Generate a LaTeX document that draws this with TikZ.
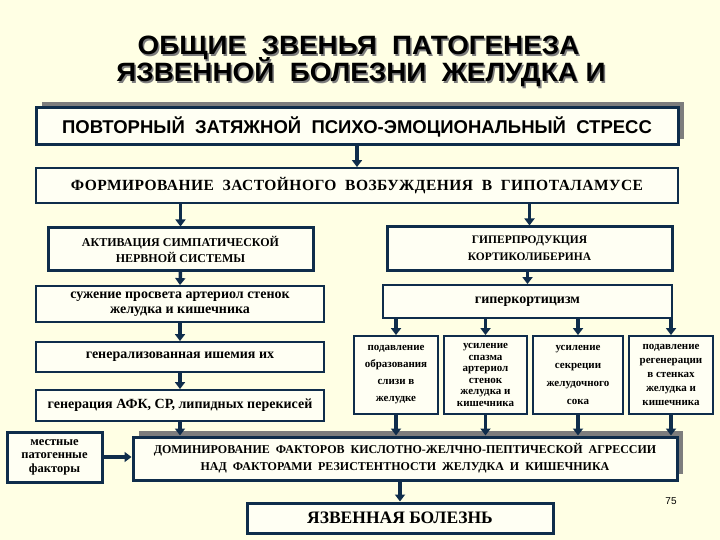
\documentclass[tikz,border=0pt]{standalone}
\usepackage{fontspec}
\setmainfont{Liberation Serif}
\newfontfamily\titlefont[FakeStretch=1.05]{Liberation Sans}
\newfontfamily\hdfont[FakeStretch=1.0]{Liberation Sans}
\newfontfamily\wideserif[LetterSpace=3]{Liberation Serif}
\newfontfamily\pgfont{Liberation Sans}
\usetikzlibrary{arrows.meta,shadows}
\definecolor{navy}{RGB}{15,45,75}
\definecolor{bg}{RGB}{255,255,228}
\definecolor{boxfill}{RGB}{255,255,243}
\definecolor{shadowgray}{RGB}{125,125,125}
\newcommand{\fs}[2]{\fontsize{#1}{#2}\selectfont}
\newcommand{\shadtext}[1]{\rlap{\hspace{1.5pt}\raisebox{-2pt}{\textcolor{shadowgray}{#1}}}#1}
\tikzset{
  box/.style={draw=navy, fill=boxfill, line width=1.8pt, inner sep=0pt, align=center, font=\bfseries},
  thickbox/.style={box, line width=3pt},
  shad/.style={drop shadow={shadow xshift=6pt, shadow yshift=6pt, opacity=1, fill=shadowgray}},
  arr/.style={draw=navy, line width=3.5pt, -{Triangle[width=10pt,length=7pt]}},
  ttl/.style={anchor=base, font=\titlefont\bfseries\fs{26.5}{30}},
}
\begin{document}
\begin{tikzpicture}[x=1pt,y=-1pt]
\fill[bg] (0,0) rectangle (720,540);
\useasboundingbox (0,0) rectangle (720,540);
% title
\node[ttl] (t1) at (358.5,55) {\shadtext{ОБЩИЕ\ \ ЗВЕНЬЯ\ \ ПАТОГЕНЕЗА}};
\node[ttl] (t2) at (361,82) {\shadtext{ЯЗВЕННОЙ\ \ БОЛЕЗНИ\ \ ЖЕЛУДКА И}};
% boxes
\node[thickbox, shad, minimum width=642pt, minimum height=37pt, font=\hdfont\bfseries\fs{18.5}{20}] (b1) at (357,126.5)
  {ПОВТОРНЫЙ\ \ ЗАТЯЖНОЙ\ \ ПСИХО-ЭМОЦИОНАЛЬНЫЙ\ \ СТРЕСС};
\node[box, minimum width=642pt, minimum height=35pt, font=\wideserif\bfseries\fs{15.5}{18}] (b2) at (357,185.5)
  {ФОРМИРОВАНИЕ\ \ ЗАСТОЙНОГО\ \ ВОЗБУЖДЕНИЯ\ \ В\ \ ГИПОТАЛАМУСЕ};
\node[thickbox, minimum width=265pt, minimum height=42pt, font=\bfseries\fs{12}{16}] (b3) at (180.5,249)
  {АКТИВАЦИЯ СИМПАТИЧЕСКОЙ\\НЕРВНОЙ СИСТЕМЫ};
\node[thickbox, minimum width=285pt, minimum height=43pt, font=\bfseries\fs{11.5}{17}] (b4) at (529.5,248.5)
  {ГИПЕРПРОДУКЦИЯ\\КОРТИКОЛИБЕРИНА};
\node[box, minimum width=288pt, minimum height=36pt, font=\bfseries\fs{14}{15}] (b5) at (180,304)
  {сужение просвета артериол стенок\\желудка и кишечника};
\node[box, minimum width=289pt, minimum height=33pt, font=\bfseries\fs{14}{15}] (b6) at (527.5,301.5)
  {гиперкортицизм};
\node[box, minimum width=288pt, minimum height=30pt, font=\bfseries\fs{14}{15}] (b7) at (180,357)
  {генерализованная ишемия их};
\node[box, minimum width=288pt, minimum height=31pt, font=\bfseries\fs{14}{15}] (b8) at (180,405.5)
  {генерация АФК, СР, липидных перекисей};
% small boxes
\node[box, minimum width=84pt, minimum height=78pt, font=\bfseries\fs{11}{17}] (s1) at (396,375)
  {подавление\\образования\\слизи в\\желудке};
\node[box, minimum width=83pt, minimum height=78pt, font=\bfseries\fs{11}{11.5}] (s2) at (485.5,375)
  {усиление\\спазма\\артериол\\стенок\\желудка и\\кишечника};
\node[box, minimum width=90pt, minimum height=78pt, font=\bfseries\fs{11}{18}] (s3) at (578,375)
  {усиление\\секреции\\желудочного\\сока};
\node[box, minimum width=84pt, minimum height=78pt, font=\bfseries\fs{11}{14}] (s4) at (671,375)
  {подавление\\регенерации\\в стенках\\желудка и\\кишечника};
% bottom
\node[thickbox, shad, minimum width=544pt, minimum height=43pt, font=\bfseries\fs{12}{17}] (big) at (405,458.5)
  {ДОМИНИРОВАНИЕ\ \ ФАКТОРОВ\ \ КИСЛОТНО-ЖЕЛЧНО-ПЕПТИЧЕСКОЙ\ \ АГРЕССИИ\\НАД\ \ ФАКТОРАМИ\ \ РЕЗИСТЕНТНОСТИ\ \ ЖЕЛУДКА\ \ И\ \ КИШЕЧНИКА};
\node[thickbox, minimum width=95pt, minimum height=50pt, font=\bfseries\fs{12.5}{13.5}] (loc) at (54.5,457)
  {местные\\патогенные\\факторы};
\node[thickbox, minimum width=306pt, minimum height=30pt, font=\bfseries\fs{17.5}{20}] (yb) at (400,518)
  {ЯЗВЕННАЯ БОЛЕЗНЬ};
\node[font=\pgfont\fs{10}{12}] (pg) at (671,501) {75};
% arrows
\draw[arr] (b1.south) -- (b2.north);
\draw[arr] (b2.south -| b3.north) -- (b3.north);
\draw[arr] (b2.south -| b4.north) -- (b4.north);
\draw[arr] (b3.south) -- (b5.north);
\draw[arr] (b4.south -| b6.north) -- (b6.north);
\draw[arr] (b5.south) -- (b7.north);
\draw[arr] (b7.south) -- (b8.north);
\draw[arr] (b8.south) -- (b8.south |- big.north);
\foreach \s in {s1,s2,s3,s4}{
  \draw[arr] (b6.south -| \s.north) -- (\s.north);
  \draw[arr] (\s.south) -- (\s.south |- big.north);
}
\draw[arr, line width=4.5pt] (loc.east) -- (loc.east -| big.west);
\draw[arr] (big.south -| yb.north) -- (yb.north);
\end{tikzpicture}
\end{document}
